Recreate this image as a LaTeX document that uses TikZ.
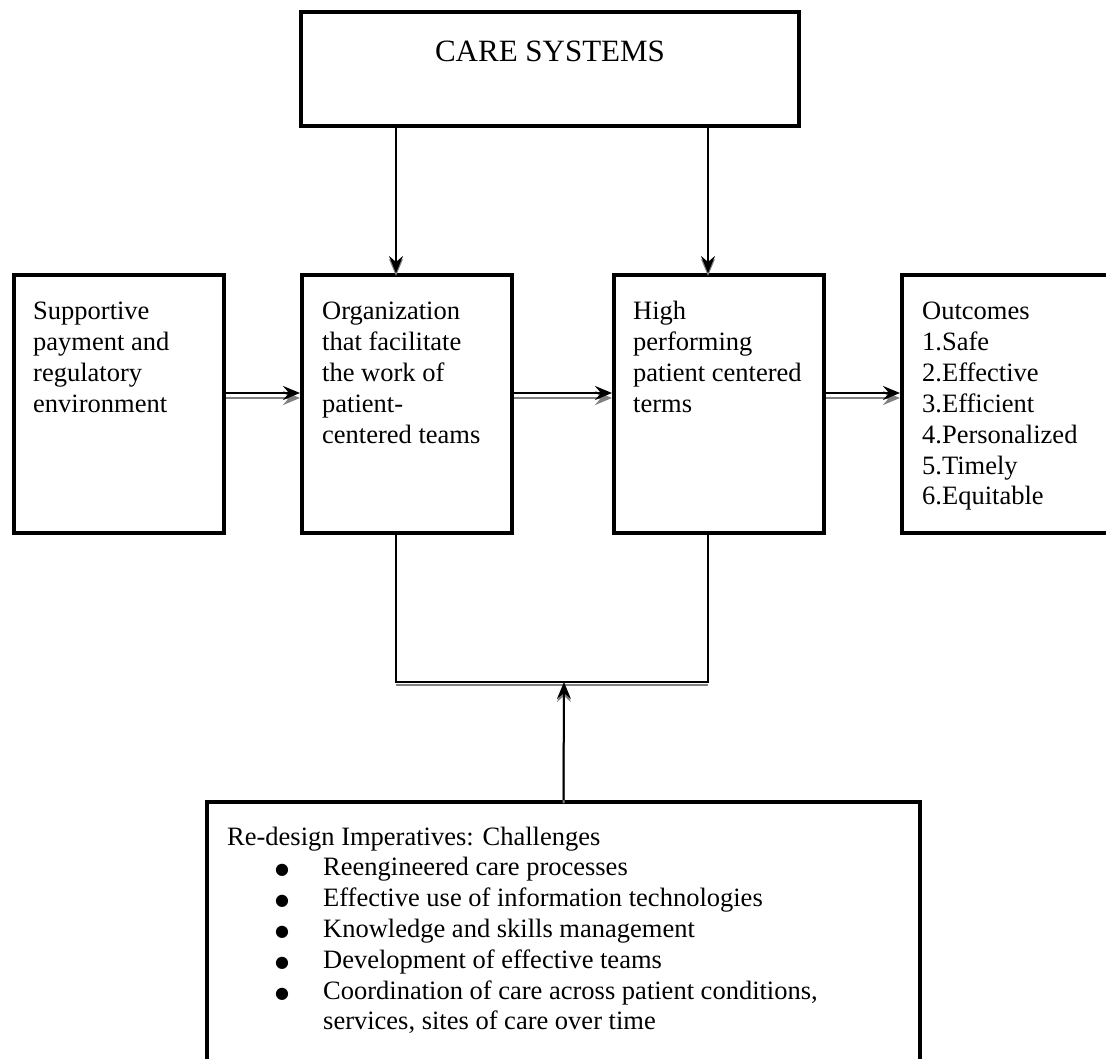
\documentclass[tikz,border=0pt]{standalone}
\usepackage{fontspec}
\setmainfont{Liberation Serif}
\newfontfamily\bulfont{DejaVu Sans}
\usetikzlibrary{arrows.meta}
\newcommand{\bigbul}{\hspace*{48pt}\makebox[48pt][l]{\raisebox{1pt}{\fontsize{16}{20}\bulfont ●}}}
\begin{document}
\begin{tikzpicture}[x=1pt,y=-1pt,
  box/.style={draw=black,line width=4pt,minimum width=210pt,minimum height=258pt,inner sep=0pt},
  txt/.style={anchor=base west,inner sep=0pt,font=\fontsize{26.5}{30.8}\selectfont},
  blk/.style={draw=black,line width=2.8pt,-{Stealth[length=17pt,width=14pt,inset=6pt]}},
  gry/.style={draw=gray,line width=2.8pt,-{Stealth[length=17pt,width=14pt,inset=6pt]}},
  vblk/.style={draw=black,line width=2pt,-{Stealth[length=17pt,width=14pt,inset=6pt]}},
  vgry/.style={draw=gray,line width=2pt,-{Stealth[length=17pt,width=14pt,inset=6pt]}},
  plain/.style={draw=black,line width=2pt}]
\useasboundingbox (0,0) rectangle (1106,1059);
% boxes
\node[draw=black,line width=4pt,minimum width=498pt,minimum height=114pt,inner sep=0pt] (care) at (550,69) {};
\node[box] (sup) at (119,404) {};
\node[box] (org) at (407,404) {};
\node[box] (high) at (719,404) {};
\node[box] (out) at (1007,404) {};
\node[draw=black,line width=4pt,minimum width=713pt,minimum height=278pt,inner sep=0pt] (bot) at (563.5,941) {};
% texts
\node[anchor=base,inner sep=0pt,font=\fontsize{31}{36}\selectfont] (caret) at (550,62) {CARE SYSTEMS};
\node[txt] (supt) at (33,320) {\parbox[t]{200pt}{Supportive\\payment and\\regulatory\\environment}};
\node[txt] (orgt) at (322,320) {\parbox[t]{200pt}{Organization\\that facilitate\\the work of\\patient-\\centered teams}};
\node[txt] (hight) at (633,320) {\parbox[t]{200pt}{High\\performing\\patient centered\\terms}};
\node[txt] (outt) at (922,320) {\parbox[t]{200pt}{Outcomes\\1.Safe\\2.Effective\\3.Efficient\\4.Personalized\\5.Timely\\6.Equitable}};
\node[txt] (bott) at (227,845) {\parbox[t]{700pt}{Re-design Imperatives: Challenges\\
\bigbul Reengineered care processes\\
\bigbul Effective use of information technologies\\
\bigbul Knowledge and skills management\\
\bigbul Development of effective teams\\
\bigbul Coordination of care across patient conditions,\\
\hspace*{96pt}services, sites of care over time}};
% horizontal double arrows
\draw[gry] ([yshift=6pt]sup.east) -- ([yshift=6pt]org.west);
\draw[blk] ([yshift=11pt]sup.east) -- ([yshift=11pt]org.west);
\draw[gry] ([yshift=6pt]org.east) -- ([yshift=6pt]high.west);
\draw[blk] ([yshift=11pt]org.east) -- ([yshift=11pt]high.west);
\draw[gry] ([yshift=6pt]high.east) -- ([yshift=6pt]out.west);
\draw[blk] ([yshift=11pt]high.east) -- ([yshift=11pt]out.west);
% vertical arrows from care systems
\draw[vgry] ([xshift=-11pt,yshift=-3pt]org.north |- care.south) -- ([xshift=-11pt,yshift=-3pt]org.north);
\draw[vblk] ([xshift=-11pt]org.north |- care.south) -- ([xshift=-11pt]org.north);
\draw[vgry] ([xshift=-11pt,yshift=-3pt]high.north |- care.south) -- ([xshift=-11pt,yshift=-3pt]high.north);
\draw[vblk] ([xshift=-11pt]high.north |- care.south) -- ([xshift=-11pt]high.north);
% bracket
\coordinate (jn) at (564,682);
\coordinate (jng) at (564,685);
\draw[draw=gray,line width=2.6pt] ([xshift=-11pt]org.south |- jng) -- ([xshift=-11pt]high.south |- jng);
\draw[plain] ([xshift=-11pt]org.south) |- (jn) -| ([xshift=-11pt]high.south);
% arrow up from challenges
\draw[vgry] ([yshift=-3pt]bot.north) -- (jng);
\draw[vblk] (bot.north) -- (jn);
\end{tikzpicture}
\end{document}
